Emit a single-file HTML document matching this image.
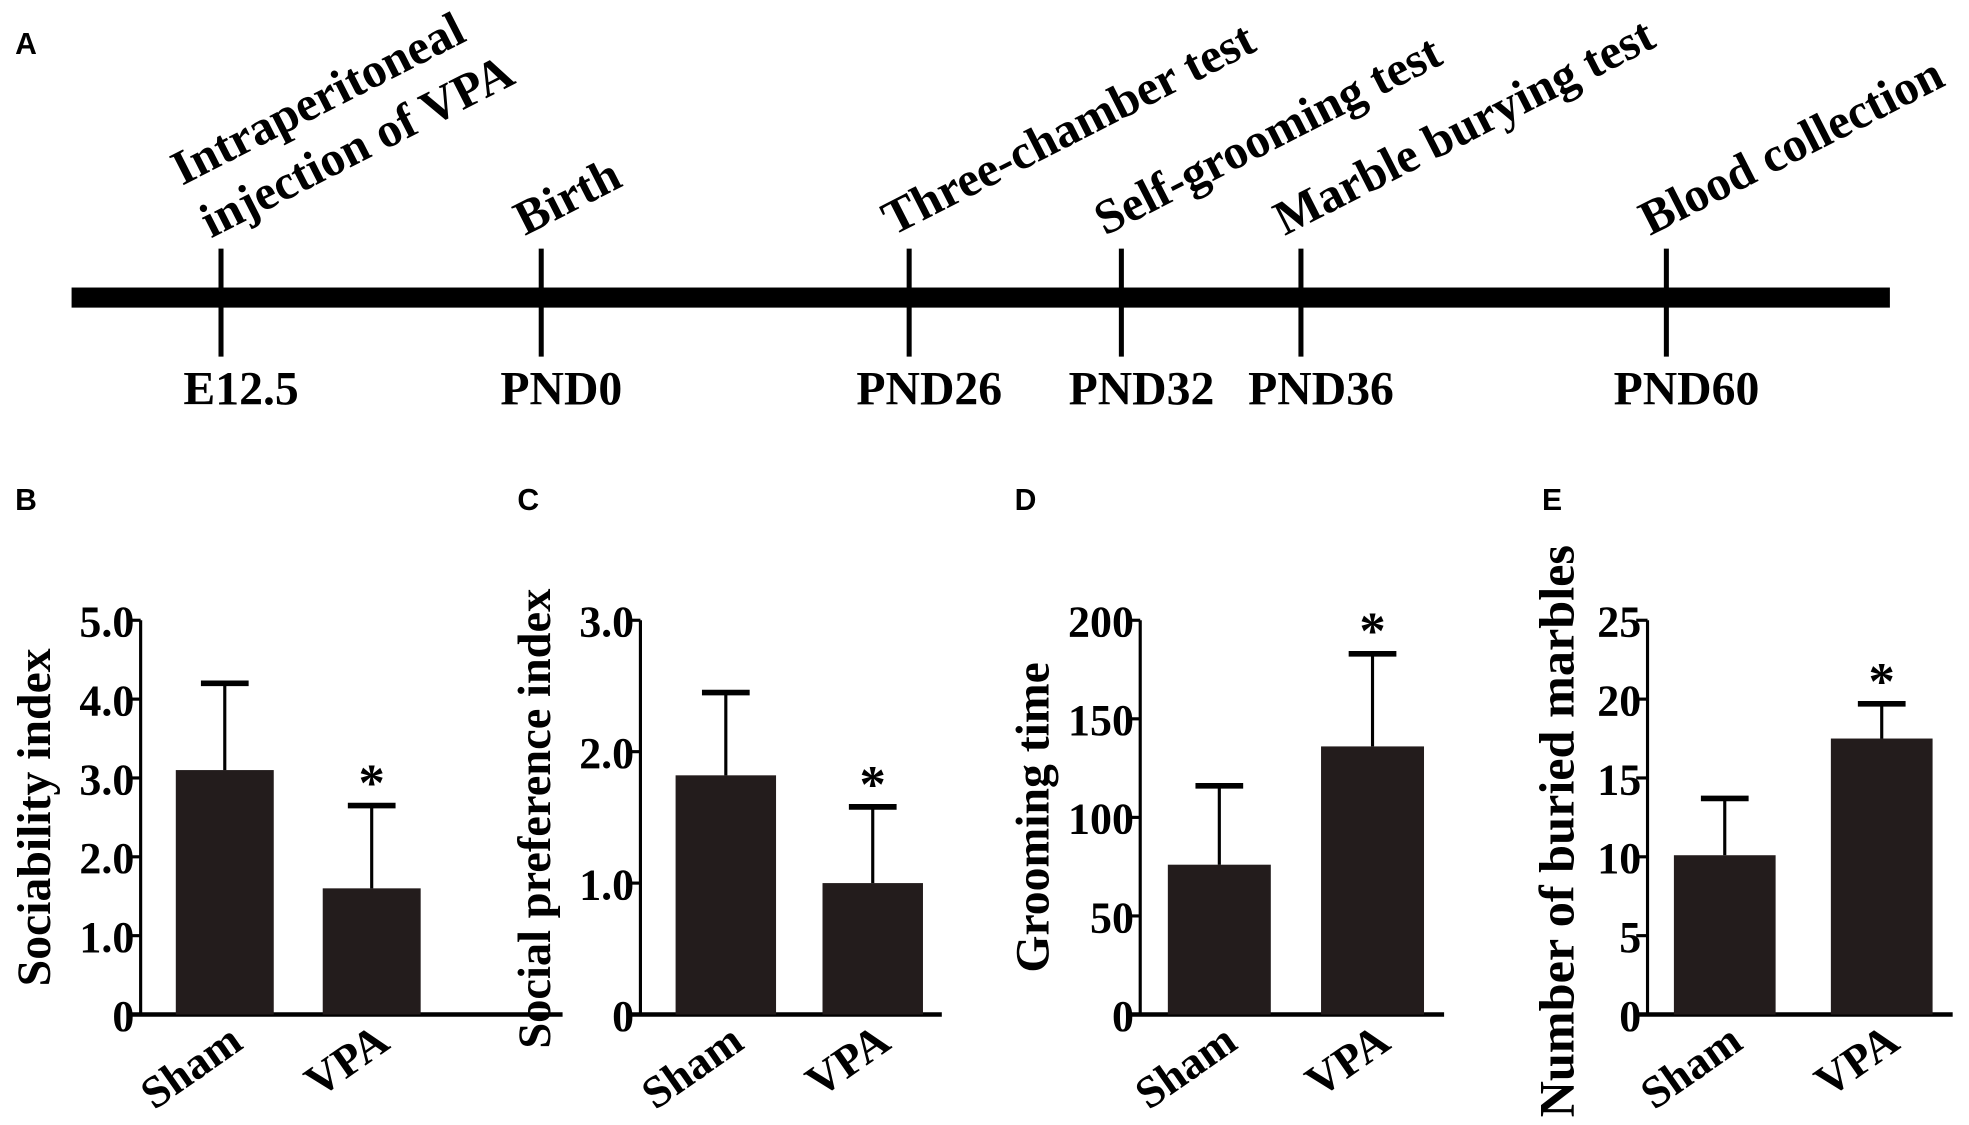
<!DOCTYPE html>
<html><head><meta charset="utf-8"><style>
html,body{margin:0;padding:0;background:#fff;}
svg{display:block;}
text{font-family:"Liberation Serif",serif;font-weight:bold;fill:#000;}
.pl{font-family:"Liberation Sans",sans-serif;font-size:24px;}
</style></head><body>
<svg id="fig" width="1969" height="1125" viewBox="0 0 1568 896" preserveAspectRatio="none" xmlns="http://www.w3.org/2000/svg">
<g id="timeline">
<text class="pl" x="12" y="43">A</text>
<rect x="57" y="229" width="1448" height="16" fill="#000"/>
</g>
<g id="charts"></g>
</svg>
<script>
const tlDays=["E12.5","PND0","PND26","PND32","PND36","PND60"];
const tlEvents=[["Intraperitoneal","injection of VPA"],["Birth"],["Three-chamber test"],["Self-grooming test"],["Marble burying test"],["Blood collection"]];
const tlX=[176,431,724,893,1036,1327];

const groups=["Sham","VPA"];
const bMeans=[3.1,1.6], bErr=[1.1,1.05], bTicks=["0","1.0","2.0","3.0","4.0","5.0"];
const cMeans=[1.82,1.0], cErr=[0.63,0.58], cTicks=["0","1.0","2.0","3.0"];
const dMeans=[76,136], dErr=[40,47], dTicks=["0","50","100","150","200"];
const eMeans=[10.1,17.5], eErr=[3.6,2.2], eTicks=["0","5","10","15","20","25"];
const sig=[false,true];

const NS="http://www.w3.org/2000/svg";
const svg=document.getElementById('fig');
function mk(tag,attrs,parent){const e=document.createElementNS(NS,tag);for(const k in attrs)e.setAttribute(k,attrs[k]);(parent||svg).appendChild(e);return e;}

const tl=document.getElementById('timeline');
tlX.forEach((x,i)=>{
  const t=mk('line',{x1:x,x2:x,y1:198,y2:284,stroke:'#000','stroke-width':4},tl);
  
  
  const d=mk('text',{x:x+16,y:322,'font-size':38,'text-anchor':'middle',transform:`scale(1 1)`},tl);
  d.textContent=tlDays[i];
  
  
  const ev=tlEvents[i];
  ev.forEach((line,j)=>{
    const n=ev.length;
    let bx,by;
    if(n>1){ bx = j===0 ? x-31 : x-8; by = j===0 ? 148 : 190; }
    else { bx=x-13; by=188; }
    const e=mk('text',{x:bx,y:by,'font-size':39,transform:`rotate(-27 ${bx} ${by})`},tl);
    e.textContent=line;
    
    
  });
});

const charts=document.getElementById('charts');
const panels=[
 {id:'b',label:'B',lx:12,ax:112,max:5,ticks:bTicks,means:bMeans,err:bErr,title:'Sociability index',tx:27,bars:[140,257],bw:78,base:[103,448]},
 {id:'c',label:'C',lx:412,ax:510,max:3,ticks:cTicks,means:cMeans,err:cErr,title:'Social preference index',tx:425,bars:[538,655],bw:80,base:[500,750]},
 {id:'d',label:'D',lx:808,ax:908,max:200,ticks:dTicks,means:dMeans,err:dErr,title:'Grooming time',tx:822,bars:[930,1052],bw:82,base:[900,1150]},
 {id:'e',label:'E',lx:1228,ax:1312,max:25,ticks:eTicks,means:eMeans,err:eErr,title:'Number of buried marbles',tx:1240,bars:[1333,1458],bw:81,base:[1305,1555]}
];
const Y0=808,Y1=494;
panels.forEach(p=>{
  const g=mk('g',{},charts);
  
  
  const y=v=>Y0-(v/p.max)*(Y0-Y1);
  const L=mk('text',{class:'pl',x:p.lx,y:406},g);L.textContent=p.label;
  
  
  const ax=mk('line',{x1:p.ax,x2:p.ax,y1:Y1,y2:Y0,stroke:'#000','stroke-width':2.5},g);
  
  
  const bl=mk('line',{x1:p.base[0],x2:p.base[1],y1:Y0,y2:Y0,stroke:'#000','stroke-width':3.5},g);
  
  
  p.ticks.forEach(t=>{
    const v=parseFloat(t), yy=y(v);
    const tk=mk('line',{x1:p.ax-9,x2:p.ax,y1:yy,y2:yy,stroke:'#000','stroke-width':2.5},g);
    
    
    const tt=mk('text',{x:p.ax-5,y:yy+13,'font-size':35,'text-anchor':'end'},g);
    tt.textContent=t;
    
    
  });
  const fs=p.id==='e'?40:(p.id==='c'?37:38);
  const cy=p.id==='e'?662:(p.id==='c'?652:651);
  const ttl=mk('text',{x:p.tx,y:cy,'font-size':fs,'text-anchor':'middle',transform:`rotate(-90 ${p.tx} ${cy})`,dy:13},g);
  ttl.textContent=p.title;
  
  
  groups.forEach((gname,i)=>{
    const x=p.bars[i], top=y(p.means[i]), cx=x+p.bw/2, et=y(p.means[i]+p.err[i]);
    const r=mk('rect',{x:x,y:top,width:p.bw,height:Y0-top,fill:'#231c1c'},g);
    
    
    const el=mk('line',{x1:cx,x2:cx,y1:top,y2:et,stroke:'#000','stroke-width':2.5},g);
    
    
    const cp=mk('line',{x1:cx-19,x2:cx+19,y1:et,y2:et,stroke:'#000','stroke-width':4.5},g);
    
    
    if(sig[i]){
      const s=mk('text',{x:cx,y:et-4,'font-size':42,'text-anchor':'middle'},g);
      s.textContent='*';
      
      
    }
    const lx=cx+16, ly=834;
    const xl=mk('text',{x:lx,y:ly,'font-size':36,'text-anchor':'end',transform:`rotate(-35 ${lx} ${ly})`},g);
    xl.textContent=gname;
    
    
  });
});
</script>
</body></html>
